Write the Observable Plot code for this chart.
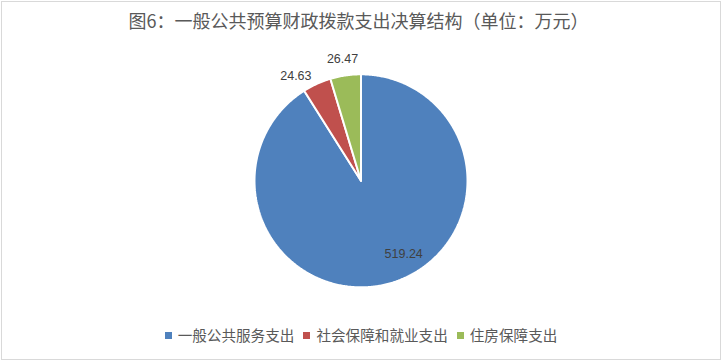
<!DOCTYPE html>
<html>
<head>
<meta charset="utf-8">
<script src="https://cdn.jsdelivr.net/npm/d3@7"></script>
<script src="https://cdn.jsdelivr.net/npm/@observablehq/plot@0.6"></script>
<style>
  html, body { margin: 0; padding: 0; background: #fff; }
  #wrap { position: relative; width: 722px; height: 362px; overflow: hidden; background: #fff;
          font-family: "Noto Sans CJK SC", "Noto Sans", sans-serif; }
  #frame { position: absolute; left: 1px; top: 1px; width: 718px; height: 357px; border: 1px solid #d9d9d9; }
  #title { position: absolute; left: 0; top: 9px; width: 717px; height: 22px; line-height: 22px;
           text-align: center; font-size: 18px; color: #595959; white-space: nowrap; }
  #chart { position: absolute; left: 0; top: 40px; }
  #legend { position: absolute; left: 0; top: 324px; width: 722px; height: 22px; line-height: 22px;
            display: flex; justify-content: center; align-items: center; font-size: 14.6px; color: #595959; }
  .item { display: flex; align-items: center; margin: 0 4.5px; white-space: nowrap; }
  .sw { width: 7px; height: 7px; margin-right: 6px; }
</style>
</head>
<body>
<div id="wrap">
  <div id="frame"></div>
  <div id="title"></div>
  <div id="chart"></div>
  <div id="legend"></div>
</div>
<script>
const title = "图6：一般公共预算财政拨款支出决算结构（单位：万元）";
const categories = ["一般公共服务支出", "社会保障和就业支出", "住房保障支出"];
const values = [519.24, 24.63, 26.47];
const valueLabels = ["519.24", "24.63", "26.47"];
const colors = ["#4F81BD", "#C0504D", "#9BBB59"];

document.getElementById("title").textContent = title;

// pie geometry from d3.pie (starts at 12 o'clock, clockwise, original order)
const arcs = d3.pie().sort(null).value(d => d)(values);
const poly = [];
arcs.forEach((a, i) => {
  const n = Math.max(2, Math.ceil((a.endAngle - a.startAngle) / 0.01));
  poly.push({k: i, x: 0, y: 0});
  for (let j = 0; j <= n; j++) {
    const t = a.startAngle + (a.endAngle - a.startAngle) * j / n;
    poly.push({k: i, x: Math.sin(t), y: Math.cos(t)});
  }
  poly.push({k: i, x: 0, y: 0});
});

// label anchors: radius factor + pixel offsets (style)
const labelStyle = [
  {r: 0.8, dx: 19, dy: -9},
  {r: 1.0, dx: -21, dy: -8},
  {r: 1.0, dx: -3, dy: -16}
];
const labelData = arcs.map((a, i) => {
  const m = (a.startAngle + a.endAngle) / 2;
  return {k: i, label: valueLabels[i], x: labelStyle[i].r * Math.sin(m), y: labelStyle[i].r * Math.cos(m)};
});

const chart = Plot.plot({
  width: 722,
  height: 270,
  margin: 0,
  style: {background: "transparent", overflow: "visible"},
  x: {domain: [-1, 1], range: [254, 467], axis: null},
  y: {domain: [-1, 1], range: [246.8, 33.8], axis: null},
  color: {domain: [0, 1, 2], range: colors},
  marks: [
    Plot.line(poly, {x: "x", y: "y", z: "k", fill: d => colors[d.k], stroke: "#fff", strokeWidth: 2, strokeLinejoin: "miter", curve: "linear"}),
    ...labelData.map((d, i) => Plot.text([d], {
      x: "x", y: "y", text: "label",
      dx: labelStyle[i].dx, dy: labelStyle[i].dy,
      fill: "#404040", fontSize: 12.5,
      fontFamily: "'Liberation Sans', Arial, sans-serif"
    }))
  ]
});
document.getElementById("chart").appendChild(chart);

const legend = document.getElementById("legend");
categories.forEach((c, i) => {
  const it = document.createElement("div");
  it.className = "item";
  const sw = document.createElement("span");
  sw.className = "sw";
  sw.style.background = colors[i];
  const tx = document.createElement("span");
  tx.textContent = c;
  it.appendChild(sw);
  it.appendChild(tx);
  legend.appendChild(it);
});
</script>
</body>
</html>
